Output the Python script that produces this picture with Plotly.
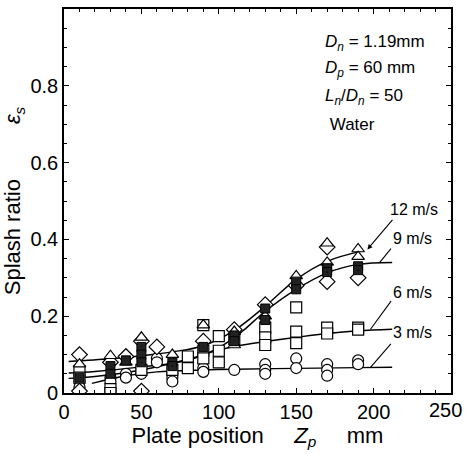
import plotly.graph_objects as go

# ---- data ----
# fitted curves
curve12_x = [3, 30, 50, 70, 90, 110, 130, 150, 170, 193]
curve12_y = [0.082, 0.089, 0.097, 0.107, 0.123, 0.163, 0.226, 0.296, 0.343, 0.370]
curve9_x = [3, 20, 50, 80, 100, 115, 130, 150, 170, 190, 212]
curve9_y = [0.052, 0.056, 0.068, 0.085, 0.118, 0.160, 0.213, 0.270, 0.313, 0.335, 0.340]
curve6_x = [3, 20, 50, 80, 100, 112, 130, 150, 170, 190, 212]
curve6_y = [0.038, 0.043, 0.060, 0.088, 0.112, 0.123, 0.134, 0.145, 0.155, 0.162, 0.166]
curve3_x = [18, 40, 60, 90, 110, 150, 190, 212]
curve3_y = [0.025, 0.045, 0.055, 0.060, 0.062, 0.064, 0.066, 0.067]

# measured points
circ_x = [10, 10, 30, 30, 40, 40, 50, 50, 60, 60, 70, 70, 70, 90, 90, 110, 130, 130, 130,
          150, 150, 170, 170, 170, 190, 190]
circ_y = [0.030, 0.015, 0.040, 0.030, 0.050, 0.040, 0.065, 0.050, 0.090, 0.080, 0.050, 0.040,
          0.030, 0.065, 0.055, 0.060, 0.075, 0.060, 0.050, 0.090, 0.065, 0.075, 0.060, 0.045,
          0.085, 0.075]
sq_x = [10, 10, 30, 30, 50, 70, 80, 80, 90, 90, 90, 100, 100, 100, 110, 130, 130, 130,
        150, 150, 150, 170, 170, 190, 190]
sq_y = [0.057, 0.040, 0.010, 0.000, 0.060, 0.060, 0.095, 0.065, 0.177, 0.110, 0.090, 0.148,
        0.110, 0.080, 0.140, 0.170, 0.145, 0.125, 0.223, 0.160, 0.130, 0.170, 0.155, 0.170, 0.165]
tri_x = [10, 30, 40, 50, 70, 90, 110, 110, 130, 150, 170, 170, 190, 190]
tri_y = [0.075, 0.097, 0.080, 0.145, 0.100, 0.177, 0.160, 0.125, 0.200, 0.305, 0.390, 0.340,
         0.375, 0.355]
dia_x = [10, 10, 30, 40, 50, 50, 60, 90, 110, 130, 150, 170, 170, 190]
dia_y = [0.100, 0.005, 0.080, 0.095, 0.135, 0.005, 0.120, 0.135, 0.165, 0.230, 0.280, 0.380,
         0.290, 0.300]
fill_x = [10, 30, 30, 40, 50, 50, 50, 70, 70, 90, 110, 110, 130, 130, 150, 150, 170, 170,
          190, 190]
fill_y = [0.040, 0.070, 0.050, 0.085, 0.120, 0.100, 0.080, 0.080, 0.070, 0.120, 0.150, 0.135,
          0.220, 0.190, 0.290, 0.270, 0.325, 0.315, 0.330, 0.320]

# curve labels and leaders
lab_text = ["12 m/s", "9 m/s", "6 m/s", "3 m/s"]
lab_x = [226, 225, 225, 225]
lab_y = [0.478, 0.402, 0.262, 0.158]
lead_x0 = [213, 212, 212, 212]
lead_y0 = [0.455, 0.380, 0.243, 0.132]
lead_x1 = [196, 204, 198, 198]
lead_y1 = [0.374, 0.340, 0.166, 0.067]

cond_lines = ["<i>D<sub>n</sub></i> = 1.19mm", "<i>D<sub>p</sub></i> = 60 mm",
              "<i>L<sub>n</sub></i>/<i>D<sub>n</sub></i> = 50", "\u00a0Water"]
cond_y = [0.912, 0.845, 0.772, 0.700]

x_tickvals = [0, 50, 100, 150, 200]
x_ticktext = ["0", "50", "100", "150", "200"]
x_last_tick = 250

FONT = "Liberation Sans, Arial, sans-serif"
fig = go.Figure()

for cx, cy in [(curve12_x, curve12_y), (curve9_x, curve9_y), (curve6_x, curve6_y), (curve3_x, curve3_y)]:
    fig.add_trace(go.Scatter(x=cx, y=cy, mode="lines", line=dict(color="black", width=1.4, shape="spline"),
                             hoverinfo="skip", showlegend=False))

mk = dict(color="white", line=dict(color="black", width=1.2))
fig.add_trace(go.Scatter(x=circ_x, y=circ_y, mode="markers", showlegend=False,
                         marker=dict(symbol="circle", size=11, **mk)))
fig.add_trace(go.Scatter(x=sq_x, y=sq_y, mode="markers", showlegend=False,
                         marker=dict(symbol="square", size=11, **mk)))
fig.add_trace(go.Scatter(x=dia_x, y=dia_y, mode="markers", showlegend=False,
                         marker=dict(symbol="diamond", size=12, **mk)))
fig.add_trace(go.Scatter(x=tri_x, y=tri_y, mode="markers", showlegend=False,
                         marker=dict(symbol="triangle-up", size=11, **mk)))
fig.add_trace(go.Scatter(x=fill_x, y=fill_y, mode="markers", showlegend=False,
                         marker=dict(symbol="square-dot", size=9, color="#222",
                                     line=dict(color="black", width=1))))

for t, x, y in zip(lab_text, lab_x, lab_y):
    fig.add_annotation(x=x, y=y, text=t, showarrow=False, xanchor="center", yanchor="middle",
                       font=dict(family=FONT, size=16, color="black"))
for i in range(len(lead_x0)):
    fig.add_annotation(x=lead_x1[i], y=lead_y1[i], ax=lead_x0[i], ay=lead_y0[i],
                       axref="x", ayref="y", xref="x", yref="y", text="",
                       showarrow=True, arrowhead=(2 if i == 0 else 0), arrowsize=0.9,
                       arrowwidth=1.1, arrowcolor="black")
for t, y in zip(cond_lines, cond_y):
    fig.add_annotation(x=167, y=y, text=t, showarrow=False, xanchor="left", yanchor="middle",
                       font=dict(family=FONT, size=17, color="black"))

# last x tick label drawn slightly inside the frame, as in the original
fig.add_annotation(x=x_last_tick, y=0, xref="x", yref="paper", text=str(x_last_tick),
                   showarrow=False, xanchor="right", yanchor="top", xshift=13, yshift=-4,
                   font=dict(family=FONT, size=20, color="black"))

axis_common = dict(showline=True, linecolor="black", linewidth=1.6, mirror="ticks",
                   ticks="inside", ticklen=5, tickwidth=1.2, tickcolor="black",
                   showgrid=False, zeroline=False,
                   tickfont=dict(family=FONT, size=20, color="black"))
fig.update_xaxes(range=[0, 250], tickvals=x_tickvals, ticktext=x_ticktext,
                 minor=dict(tickvals=list(range(10, 250, 10)), ticks="inside", ticklen=3, tickcolor="black"),
                 title=dict(text="Plate position\u00a0\u00a0\u00a0\u00a0\u00a0<i>Z<sub>p</sub></i>\u00a0\u00a0\u00a0\u00a0\u00a0mm",
                            font=dict(family=FONT, size=22, color="black"), standoff=1),
                 **axis_common)
fig.update_yaxes(range=[0, 1], dtick=0.2, tick0=0,
                 minor=dict(dtick=0.05, ticks="inside", ticklen=3, tickcolor="black"),
                 title=dict(text="Splash ratio\u00a0\u00a0\u00a0\u00a0\u00a0\u00a0\u00a0\u00a0\u00a0<i>ε<sub>s</sub></i>",
                            font=dict(family=FONT, size=22, color="black"), standoff=6),
                 **axis_common)
fig.update_layout(width=466, height=454, margin=dict(l=64, r=15, t=9, b=61, autoexpand=False),
                  paper_bgcolor="white", plot_bgcolor="white", showlegend=False)
fig.write_html("out.html", config={"displayModeBar": False},
               post_script="document.body.style.margin='0';")
